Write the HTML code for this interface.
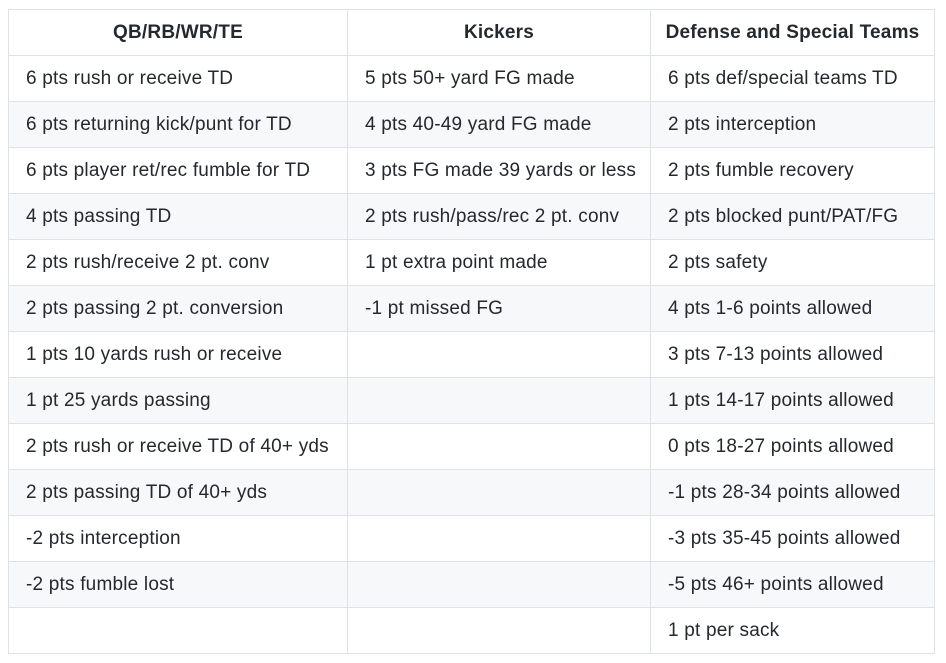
<!DOCTYPE html>
<html><head><meta charset="utf-8"><style>
html,body{margin:0;padding:0;background:#fff;width:946px;height:663px;overflow:hidden}
table{position:absolute;left:8px;top:9px;border-collapse:collapse;font-family:"Liberation Sans",Arial,sans-serif;font-size:19px;letter-spacing:0.2px;color:#24292e}
td,th{border:1px solid #dfe2e5;height:46px;padding:0 0 0 17px;text-align:left;white-space:nowrap;box-sizing:border-box}
th{font-weight:bold;text-align:center;padding:0}
tr:nth-child(even) td{background:#f6f8fa}
col.a{width:339px}col.b{width:303px}col.c{width:284px}
</style></head><body>
<table>
<colgroup><col class="a"><col class="b"><col class="c"></colgroup>
<thead><tr><th>QB/RB/WR/TE</th><th>Kickers</th><th>Defense and Special Teams</th></tr></thead>
<tbody>
<tr><td>6 pts rush or receive TD</td><td>5 pts 50+ yard FG made</td><td>6 pts def/special teams TD</td></tr>
<tr><td>6 pts returning kick/punt for TD</td><td>4 pts 40-49 yard FG made</td><td>2 pts interception</td></tr>
<tr><td>6 pts player ret/rec fumble for TD</td><td>3 pts FG made 39 yards or less</td><td>2 pts fumble recovery</td></tr>
<tr><td>4 pts passing TD</td><td>2 pts rush/pass/rec 2 pt. conv</td><td>2 pts blocked punt/PAT/FG</td></tr>
<tr><td>2 pts rush/receive 2 pt. conv</td><td>1 pt extra point made</td><td>2 pts safety</td></tr>
<tr><td>2 pts passing 2 pt. conversion</td><td>-1 pt missed FG</td><td>4 pts 1-6 points allowed</td></tr>
<tr><td>1 pts 10 yards rush or receive</td><td></td><td>3 pts 7-13 points allowed</td></tr>
<tr><td>1 pt 25 yards passing</td><td></td><td>1 pts 14-17 points allowed</td></tr>
<tr><td>2 pts rush or receive TD of 40+ yds</td><td></td><td>0 pts 18-27 points allowed</td></tr>
<tr><td>2 pts passing TD of 40+ yds</td><td></td><td>-1 pts 28-34 points allowed</td></tr>
<tr><td>-2 pts interception</td><td></td><td>-3 pts 35-45 points allowed</td></tr>
<tr><td>-2 pts fumble lost</td><td></td><td>-5 pts 46+ points allowed</td></tr>
<tr><td></td><td></td><td>1 pt per sack</td></tr>
</tbody></table>
</body></html>
